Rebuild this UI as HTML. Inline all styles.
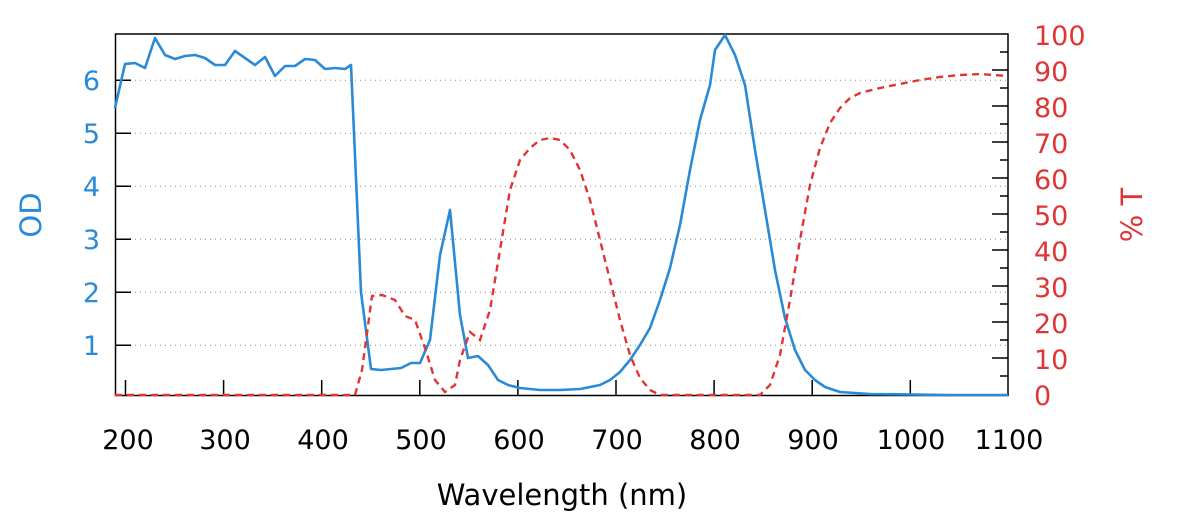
<!DOCTYPE html>
<html><head><meta charset="utf-8"><style>body{margin:0;background:#fff}</style></head><body>
<svg width="1200" height="520" xmlns="http://www.w3.org/2000/svg" font-family="DejaVu Sans, Liberation Sans, sans-serif">
<g stroke="#888" stroke-width="1" stroke-dasharray="1,4">
<line x1="115" y1="345.3" x2="1008" y2="345.3"/><line x1="115" y1="292.3" x2="1008" y2="292.3"/>
<line x1="115" y1="239.3" x2="1008" y2="239.3"/><line x1="115" y1="186.3" x2="1008" y2="186.3"/>
<line x1="115" y1="133.3" x2="1008" y2="133.3"/><line x1="115" y1="80.3" x2="1008" y2="80.3"/>
</g>
<g stroke="#000" stroke-width="1.5" fill="none">
<rect x="115.5" y="34" width="892.5" height="361.5"/>
<path d="M115 345.3h16M115 292.3h16M115 239.3h16M115 186.3h16M115 133.3h16M115 80.3h16"/>
<path d="M125.5 395v-15M223.6 395v-15M321.7 395v-15M419.8 395v-15M517.9 395v-15M616 395v-15M714.1 395v-15M812.2 395v-15M910.3 395v-15"/>
<path d="M1008 376h-8M1008 358h-16M1008 340h-8M1008 322h-16M1008 304h-8M1008 286h-16M1008 268h-8M1008 250h-16M1008 232h-8M1008 214h-16M1008 196h-8M1008 178h-16M1008 160h-8M1008 142h-16M1008 124h-8M1008 106h-16M1008 88h-8M1008 70h-16M1008 52h-8"/>
</g>
<polyline fill="none" stroke="#2b8ad6" stroke-width="2.6" stroke-linejoin="round" points="115,108 125,64 135,63 145,68 155,38 165,55 175,59 185,56 195,55 205,58 215,65 225,65 235,51 245,58 255,65 265,57 275,76 285,66 295,66 305,59 315,60 325,69 335,68 345,69 351,65 361,292 371,369 381,370 391,369 401,368 411,363 420,363 430,340 440,255 450,210 460,315 468,358 478,356 488,365 498,380 508,385 520,388 540,390 560,390 580,389 600,385 610,380 620,372 630,360 640,345 650,328 660,300 670,268 680,225 690,170 700,120 710,85 715,50 725,35 735,55 745,85 755,150 765,210 775,270 785,318 795,350 805,370 815,380 825,387 840,392 870,394 950,395 1008,395"/>
<polyline fill="none" stroke="#e03535" stroke-width="2.4" stroke-dasharray="7,5" points="115,395 355,395 362,370 372,296 382,295 395,300 405,316 415,320 425,348 435,380 445,392 455,385 460,360 470,332 480,340 490,310 500,250 510,190 520,160 530,148 540,140 550,138 560,140 570,150 580,170 590,200 600,240 610,280 620,320 630,355 640,378 650,390 660,395 760,395 770,385 780,355 790,300 800,240 810,185 820,148 830,123 840,108 850,98 860,93 880,88 900,84 920,80 940,77 960,75 980,74 1008,76"/>
<g fill="#2b8ad6" font-size="27" text-anchor="end">
<text x="100" y="355">1</text><text x="100" y="302">2</text><text x="100" y="249">3</text><text x="100" y="196">4</text><text x="100" y="143">5</text><text x="100" y="90">6</text>
<text transform="translate(41,215) rotate(-90)" text-anchor="middle" font-size="29">OD</text>
</g>
<g fill="#e03535" font-size="27" text-anchor="start">
<text x="1034" y="405">0</text><text x="1034" y="369">10</text><text x="1034" y="333">20</text><text x="1034" y="297">30</text><text x="1034" y="261">40</text><text x="1034" y="225">50</text><text x="1034" y="189">60</text><text x="1034" y="153">70</text><text x="1034" y="117">80</text><text x="1034" y="81">90</text><text x="1034" y="45">100</text>
<text transform="translate(1142,215) rotate(-90)" text-anchor="middle" font-size="29">% T</text>
</g>
<g fill="#000" font-size="27" text-anchor="middle">
<text x="128" y="449">200</text><text x="225" y="449">300</text><text x="323" y="449">400</text><text x="421" y="449">500</text><text x="519" y="449">600</text><text x="617" y="449">700</text><text x="715" y="449">800</text><text x="813" y="449">900</text><text x="911" y="449">1000</text><text x="1009" y="449">1100</text>
<text x="562" y="505" font-size="29">Wavelength (nm)</text>
</g>
</svg>
</body></html>
